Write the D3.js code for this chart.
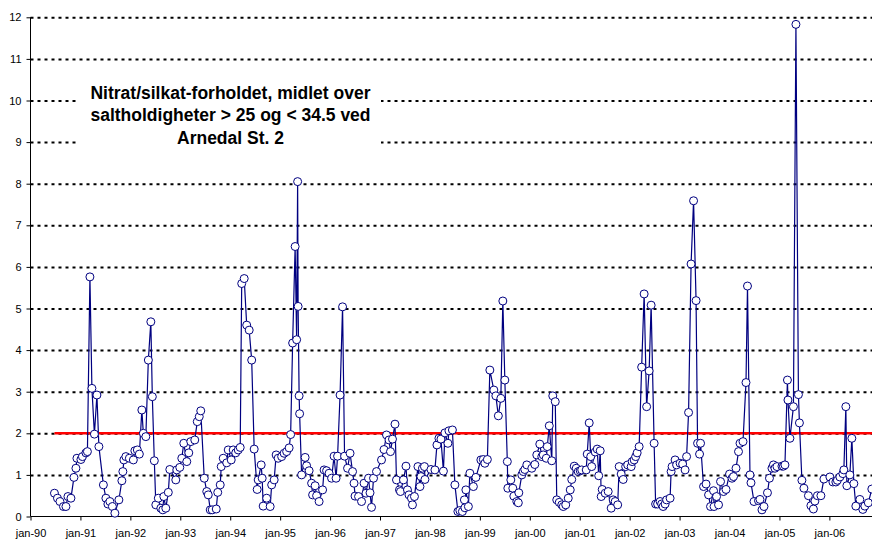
<!doctype html>
<html>
<head>
<meta charset="utf-8">
<style>
  body { margin: 0; background: #fff; }
  svg { display: block; font-family: Arial, "Liberation Sans", sans-serif; }
  .grid line { stroke: #000; stroke-width: 2; stroke-dasharray: 3,4; }
  .grid path { display: none; }
  .axis path, .axis line { stroke: #000; stroke-width: 1; }
  .axis text { font-size: 11px; fill: #000; }
</style>
<script src="https://d3js.org/d3.v7.min.js"></script>
</head>
<body>
<svg width="872" height="539"></svg>
<script>
// sampling dates as decimal years
var dates = [
  1990.48, 1990.54, 1990.59, 1990.66, 1990.71, 1990.75, 1990.81, 1990.87, 1990.91, 1990.93,
  1991.01, 1991.04, 1991.11, 1991.14, 1991.19, 1991.23, 1991.28, 1991.33, 1991.37, 1991.46,
  1991.51, 1991.55, 1991.59, 1991.64, 1991.69, 1991.77, 1991.83, 1991.85, 1991.87, 1991.91,
  1991.98, 1992.06, 1992.09, 1992.14, 1992.18, 1992.23, 1992.26, 1992.31, 1992.36, 1992.41,
  1992.44, 1992.48, 1992.51, 1992.56, 1992.61, 1992.65, 1992.67, 1992.71, 1992.76, 1992.79,
  1992.91, 1992.93, 1992.99, 1993.03, 1993.07, 1993.13, 1993.17, 1993.21, 1993.29, 1993.34,
  1993.38, 1993.41, 1993.48, 1993.53, 1993.56, 1993.60, 1993.64, 1993.72, 1993.75, 1993.80,
  1993.82, 1993.86, 1993.93, 1993.96, 1994.02, 1994.06, 1994.11, 1994.16, 1994.20, 1994.23,
  1994.28, 1994.33, 1994.38, 1994.43, 1994.48, 1994.54, 1994.56, 1994.62, 1994.64, 1994.66,
  1994.73, 1994.80, 1994.83, 1994.88, 1994.92, 1994.96, 1995.03, 1995.08, 1995.13, 1995.18,
  1995.21, 1995.25, 1995.30, 1995.33, 1995.35, 1995.36, 1995.38, 1995.39, 1995.43, 1995.50,
  1995.53, 1995.58, 1995.63, 1995.65, 1995.70, 1995.73, 1995.78, 1995.85, 1995.88, 1995.93,
  1995.98, 1996.03, 1996.08, 1996.12, 1996.15, 1996.20, 1996.25, 1996.29, 1996.35, 1996.40,
  1996.45, 1996.48, 1996.50, 1996.57, 1996.63, 1996.68, 1996.72, 1996.77, 1996.80, 1996.83,
  1996.87, 1996.93, 1997.03, 1997.08, 1997.13, 1997.18, 1997.21, 1997.25, 1997.30, 1997.33,
  1997.39, 1997.41, 1997.47, 1997.52, 1997.55, 1997.58, 1997.63, 1997.65, 1997.69, 1997.76,
  1997.80, 1997.82, 1997.85, 1997.89, 1997.90, 1998.02, 1998.10, 1998.14, 1998.18, 1998.22,
  1998.27, 1998.30, 1998.36, 1998.38, 1998.45, 1998.50, 1998.56, 1998.60, 1998.65, 1998.69,
  1998.70, 1998.72, 1998.77, 1998.80, 1998.87, 1998.92, 1999.02, 1999.07, 1999.10, 1999.15,
  1999.20, 1999.28, 1999.32, 1999.37, 1999.42, 1999.46, 1999.50, 1999.55, 1999.56, 1999.62,
  1999.66, 1999.68, 1999.74, 1999.77, 1999.78, 1999.84, 1999.87, 1999.90, 1999.94, 2000.04,
  2000.10, 2000.14, 2000.20, 2000.24, 2000.27, 2000.33, 2000.35, 2000.39, 2000.44, 2000.46,
  2000.51, 2000.54, 2000.59, 2000.64, 2000.67, 2000.72, 2000.77, 2000.81, 2000.84, 2000.89,
  2000.93, 2000.97, 2001.01, 2001.04, 2001.13, 2001.15, 2001.19, 2001.22, 2001.24, 2001.31,
  2001.35, 2001.38, 2001.41, 2001.43, 2001.45, 2001.51, 2001.57, 2001.63, 2001.67, 2001.71,
  2001.76, 2001.79, 2001.83, 2001.87, 2001.92, 2001.96, 2002.03, 2002.05, 2002.09, 2002.12,
  2002.15, 2002.19, 2002.24, 2002.29, 2002.34, 2002.39, 2002.43, 2002.49, 2002.52, 2002.56,
  2002.61, 2002.64, 2002.67, 2002.71, 2002.74, 2002.81, 2002.83, 2002.85, 2002.91, 2002.94,
  2003.01, 2003.06, 2003.11, 2003.14, 2003.18, 2003.23, 2003.28, 2003.33, 2003.36, 2003.40,
  2003.42, 2003.48, 2003.53, 2003.58, 2003.62, 2003.68, 2003.69, 2003.74, 2003.78, 2003.82,
  2003.88, 2003.93, 2004.00, 2004.05, 2004.08, 2004.13, 2004.18, 2004.21, 2004.27, 2004.33,
  2004.36, 2004.41, 2004.43, 2004.49, 2004.58, 2004.61, 2004.65, 2004.69, 2004.76, 2004.80,
  2004.85, 2004.88, 2004.91, 2004.95, 2005.05, 2005.08, 2005.11, 2005.16, 2005.17, 2005.21,
  2005.28, 2005.33, 2005.38, 2005.40, 2005.45, 2005.49, 2005.58, 2005.63, 2005.68, 2005.71,
  2005.76, 2005.83, 2005.89, 2006.01, 2006.07, 2006.13, 2006.16, 2006.21, 2006.27, 2006.29,
  2006.33, 2006.35, 2006.41, 2006.45, 2006.49, 2006.53, 2006.61, 2006.67, 2006.71, 2006.78,
  2006.85
];

// nitrate/silicate ratio
var values = [
  0.56, 0.44, 0.36, 0.24, 0.24, 0.48, 0.44, 0.94, 1.16, 1.40,
  1.37, 1.44, 1.53, 1.56, 5.76, 3.08, 1.98, 2.92, 1.68, 0.76,
  0.44, 0.30, 0.36, 0.24, 0.08, 0.40, 0.86, 1.08, 1.36, 1.44,
  1.40, 1.36, 1.58, 1.60, 1.50, 2.56, 2.00, 1.92, 3.76, 4.68,
  2.88, 1.34, 0.28, 0.44, 0.20, 0.16, 0.48, 0.20, 0.58, 1.13,
  0.88, 1.12, 1.18, 1.40, 1.76, 1.32, 1.53, 1.80, 1.84, 2.28,
  2.40, 2.54, 0.92, 0.60, 0.52, 0.16, 0.16, 0.18, 0.58, 0.76,
  1.20, 1.40, 1.29, 1.60, 1.36, 1.60, 1.53, 1.60, 1.66, 5.60,
  5.72, 4.60, 4.48, 3.76, 1.62, 0.65, 0.88, 1.24, 0.92, 0.25,
  0.44, 0.24, 0.76, 0.88, 1.48, 1.40, 1.44, 1.52, 1.56, 1.65,
  1.97, 4.17, 6.49, 4.25, 8.05, 5.05, 2.90, 2.47, 1.00, 1.42,
  1.22, 1.10, 0.80, 0.52, 0.74, 0.50, 0.36, 0.64, 1.12, 1.10,
  1.04, 0.92, 1.45, 0.92, 1.45, 2.92, 5.04, 1.45, 1.16, 1.52,
  1.08, 0.80, 0.49, 0.48, 0.36, 0.80, 0.56, 0.92, 0.57, 0.22,
  0.92, 1.08, 1.36, 1.61, 1.96, 1.84, 1.56, 1.86, 2.22, 0.88,
  0.64, 0.60, 0.88, 1.21, 0.64, 0.52, 0.44, 0.28, 0.48, 1.20,
  0.72, 0.96, 1.16, 1.20, 0.89, 1.13, 1.12, 1.72, 1.88, 1.86,
  1.09, 2.01, 1.76, 2.06, 2.08, 0.76, 0.12, 0.14, 0.12, 0.40,
  0.21, 0.64, 0.24, 1.04, 0.72, 0.94, 1.36, 1.37, 1.28, 1.37,
  3.52, 3.04, 2.90, 2.42, 2.84, 5.18, 3.28, 1.32, 0.68, 0.88,
  0.68, 0.49, 0.36, 0.33, 0.57, 1.00, 1.08, 1.13, 1.24, 1.16,
  1.25, 1.48, 1.74, 1.44, 1.48, 1.40, 1.68, 2.18, 1.34, 2.90,
  2.76, 0.40, 0.34, 0.28, 0.24, 0.28, 0.44, 0.64, 0.89, 1.21,
  1.16, 1.08, 1.10, 1.12, 1.12, 1.50, 2.25, 1.44, 1.20, 1.55,
  1.62, 0.98, 1.58, 0.48, 0.65, 0.56, 0.60, 0.20, 0.40, 0.36,
  0.28, 1.20, 1.02, 0.89, 1.20, 1.24, 1.20, 1.32, 1.36, 1.44,
  1.53, 1.68, 3.59, 5.35, 2.64, 3.50, 5.08, 1.76, 0.30, 0.30,
  0.36, 0.30, 0.24, 0.30, 0.40, 0.44, 1.08, 1.20, 1.36, 1.24,
  1.28, 1.26, 1.12, 1.44, 2.50, 6.07, 7.59, 5.19, 1.76, 1.50,
  1.76, 0.72, 0.78, 0.52, 0.24, 0.62, 0.24, 0.48, 0.28, 0.84,
  0.60, 0.65, 1.02, 0.92, 0.96, 1.16, 1.56, 1.76, 1.80, 3.22,
  5.54, 1.00, 0.81, 0.36, 0.38, 0.41, 0.16, 0.24, 0.57, 0.92,
  1.16, 1.24, 1.16, 1.20, 1.21, 1.21, 1.24, 3.28, 2.80, 1.88,
  2.64, 11.83, 2.93, 2.25, 0.87, 0.68, 0.50, 0.26, 0.18, 0.37,
  0.50, 0.50, 0.90, 0.95, 0.83, 0.83, 0.87, 0.95, 1.03, 1.12,
  2.64, 0.74, 1.00, 1.88, 0.79, 0.25, 0.41, 0.17, 0.25, 0.33,
  0.66
];

var yearTicks = [1990, 1991, 1992, 1993, 1994, 1995, 1996, 1997, 1998,
                 1999, 2000, 2001, 2002, 2003, 2004, 2005, 2006];
var yearLabels = ["jan-90", "jan-91", "jan-92", "jan-93", "jan-94", "jan-95", "jan-96", "jan-97", "jan-98",
                  "jan-99", "jan-00", "jan-01", "jan-02", "jan-03", "jan-04", "jan-05", "jan-06"];
var yTicks = [0, 1, 2, 3, 4, 5, 6, 7, 8, 9, 10, 11, 12];
var limitValue = 2;
var titleLines = ["Nitrat/silkat-forholdet, midlet over",
                  "saltholdigheter > 25 og < 34.5 ved",
                  "Arnedal St. 2"];

var svg = d3.select("svg"),
    plotLeft = 30.5,
    plotRight = 872,
    plotTop = 17.3,
    plotBottom = 516.5;

var xScale = d3.scaleLinear().domain([1990, 2007]).range([plotLeft, plotLeft + 17 * 49.93]);
var yScale = d3.scaleLinear().domain([0, 12]).range([plotBottom, plotTop]);

// dotted gridlines
svg.append("g")
   .attr("class", "grid")
   .attr("transform", "translate(" + plotLeft + ",0)")
   .call(d3.axisRight(yScale).tickValues(yTicks.slice(1)).tickSize(plotRight - plotLeft).tickFormat(""));

// title box (white, hides grid behind it)
var title = svg.append("g");
title.append("rect")
     .attr("x", 78).attr("y", 66)
     .attr("width", 303).attr("height", 84)
     .attr("fill", "#fff");
title.selectAll("text")
     .data(titleLines)
     .enter().append("text")
     .attr("x", 230.5)
     .attr("y", function(d, i) { return 98.5 + i * 22.5; })
     .attr("text-anchor", "middle")
     .style("font-size", "17.5px")
     .style("font-weight", "bold")
     .text(function(d) { return d; });

// axes
svg.append("g")
   .attr("class", "axis")
   .attr("transform", "translate(" + plotLeft + ",0)")
   .call(d3.axisLeft(yScale).tickValues(yTicks).tickSize(4).tickPadding(5).tickFormat(d3.format("d")))
   .call(function(g) { g.select(".domain").attr("d", "M0," + plotTop + "V" + plotBottom); });

svg.append("g")
   .attr("class", "axis")
   .attr("transform", "translate(0," + plotBottom + ")")
   .call(d3.axisBottom(xScale).tickValues(yearTicks).tickSize(4).tickPadding(9)
           .tickFormat(function(d, i) { return yearLabels[i]; }))
   .call(function(g) { g.select(".domain").attr("d", "M" + plotLeft + ",0H" + plotRight); });

// red reference line
var limitLine = [[dates[0], limitValue], [2007, limitValue]];
svg.append("path")
   .datum(limitLine)
   .attr("fill", "none")
   .attr("stroke", "#ff0000")
   .attr("stroke-width", 2.5)
   .attr("d", d3.line().x(function(d) { return xScale(d[0]); }).y(function(d) { return yScale(d[1]); }));

// series
var data = dates.map(function(d, i) { return { t: d, v: values[i] }; });

svg.append("path")
   .datum(data)
   .attr("fill", "none")
   .attr("stroke", "#000080")
   .attr("stroke-width", 1.2)
   .attr("d", d3.line().x(function(d) { return xScale(d.t); }).y(function(d) { return yScale(d.v); }));

svg.selectAll(".pt")
   .data(data)
   .enter().append("circle")
   .attr("class", "pt")
   .attr("cx", function(d) { return xScale(d.t); })
   .attr("cy", function(d) { return yScale(d.v); })
   .attr("r", 4)
   .attr("fill", "#fff")
   .attr("stroke", "#000080")
   .attr("stroke-width", 1);
</script>
</body>
</html>
